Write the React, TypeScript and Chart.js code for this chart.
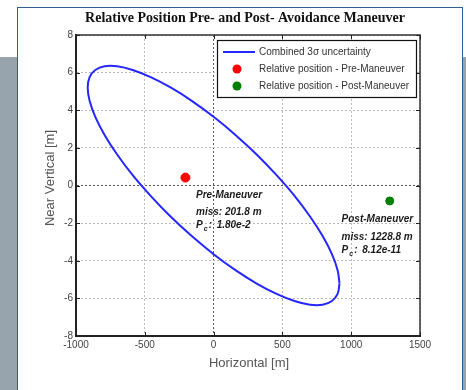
import React, { useEffect, useRef } from "react";
import { Chart, registerables } from "chart.js";

Chart.register(...registerables);

// ---- data ----
const ellipseX = [
  915.0, 901.1, 859.8, 792.4, 700.9, 588.2, 457.5, 312.9, 158.8, 0,
  -158.8, -312.9, -457.5, -588.2, -700.9, -792.4, -859.8, -901.1, -915.0,
  -901.1, -859.8, -792.4, -700.9, -588.2, -457.5, -312.9, -158.8, 0,
  158.8, 312.9, 457.5, 588.2, 700.9, 792.4, 859.8, 901.1, 915.0,
];
const ellipseY = [
  -5.21, -5.76, -6.14, -6.34, -6.34, -6.14, -5.76, -5.21, -4.5, -3.65,
  -2.69, -1.65, -0.55, 0.55, 1.65, 2.69, 3.65, 4.5, 5.21,
  5.76, 6.14, 6.34, 6.34, 6.14, 5.76, 5.21, 4.5, 3.65,
  2.69, 1.65, 0.55, -0.55, -1.65, -2.69, -3.65, -4.5, -5.21,
];
const preX = [-205];
const preY = [0.42];
const postX = [1280];
const postY = [-0.82];

const xTicks = [-1000, -500, 0, 500, 1000, 1500];
const yTicks = [-8, -6, -4, -2, 0, 2, 4, 6, 8];

const titleText = "Relative Position Pre- and Post- Avoidance Maneuver";
const xTitle = "Horizontal [m]";
const yTitle = "Near Vertical [m]";
const seriesLabels = [
  "Combined 3\u03c3 uncertainty",
  "Relative position - Pre-Maneuver",
  "Relative position - Post-Maneuver",
];
const preNote = ["Pre-Maneuver", "miss: 201.8 m", "1.80e-2"];
const postNote = ["Post-Maneuver", "miss: 1228.8 m", "8.12e-11"];
// note anchors in data units
const preNoteAt = [-128, -0.5];
const postNoteAt = [930, -1.8];

const SANS = '"Liberation Sans", Arial, sans-serif';
const BLUE = "#2626ff";
const RED = "#ff0000";
const GREEN = "#008000";

const decorPlugin = {
  id: "decor",
  afterDraw(chart: any) {
    const { ctx, chartArea: ca } = chart;
    const xs = chart.scales.x;
    const ys = chart.scales.y;
    ctx.save();

    // top / right box edges
    ctx.strokeStyle = "#333";
    ctx.lineWidth = 1.5;
    ctx.beginPath();
    ctx.moveTo(ca.left, ca.top);
    ctx.lineTo(ca.right, ca.top);
    ctx.lineTo(ca.right, ca.bottom);
    ctx.stroke();

    // inward tick marks
    ctx.lineWidth = 1;
    ctx.strokeStyle = "#222";
    ctx.beginPath();
    xTicks.forEach((v) => {
      const px = Math.round(xs.getPixelForValue(v)) + 0.5;
      ctx.moveTo(px, ca.bottom);
      ctx.lineTo(px, ca.bottom - 4);
      ctx.moveTo(px, ca.top);
      ctx.lineTo(px, ca.top + 4);
    });
    yTicks.forEach((v) => {
      const py = Math.round(ys.getPixelForValue(v)) + 0.5;
      ctx.moveTo(ca.left, py);
      ctx.lineTo(ca.left + 4, py);
      ctx.moveTo(ca.right, py);
      ctx.lineTo(ca.right - 4, py);
    });
    ctx.stroke();

    // title
    ctx.fillStyle = "#111";
    ctx.font = 'bold 14px "Liberation Serif", "DejaVu Serif", serif';
    ctx.textAlign = "center";
    ctx.textBaseline = "middle";
    ctx.fillText(titleText, 245, 18);

    // axis titles
    ctx.fillStyle = "#555";
    ctx.font = "13px " + SANS;
    ctx.fillText(xTitle, (ca.left + ca.right) / 2 + 1, 363);
    ctx.save();
    ctx.translate(50, 178);
    ctx.rotate(-Math.PI / 2);
    ctx.fillText(yTitle, 0, 0);
    ctx.restore();

    // legend
    const lx = 217, ly = 40, lw = 199, lh = 57;
    ctx.fillStyle = "#fff";
    ctx.fillRect(lx, ly, lw, lh);
    ctx.strokeStyle = "#111";
    ctx.lineWidth = 1.2;
    ctx.strokeRect(lx + 0.5, ly + 0.5, lw, lh);
    const rows = [52, 69, 86];
    ctx.strokeStyle = BLUE;
    ctx.lineWidth = 2;
    ctx.beginPath();
    ctx.moveTo(223, rows[0]);
    ctx.lineTo(255, rows[0]);
    ctx.stroke();
    ctx.fillStyle = RED;
    ctx.beginPath();
    ctx.arc(237, rows[1], 4.5, 0, Math.PI * 2);
    ctx.fill();
    ctx.fillStyle = GREEN;
    ctx.beginPath();
    ctx.arc(237, rows[2], 4.5, 0, Math.PI * 2);
    ctx.fill();
    ctx.fillStyle = "#333";
    ctx.font = "10px " + SANS;
    ctx.textAlign = "left";
    seriesLabels.forEach((t, i) => ctx.fillText(t, 259, rows[i]));

    // notes
    const drawNote = (lines: string[], at: number[], gaps: number[]) => {
      const x0 = xs.getPixelForValue(at[0]);
      const y0 = ys.getPixelForValue(at[1]);
      ctx.fillStyle = "#1a1a1a";
      ctx.textAlign = "left";
      ctx.textBaseline = "middle";
      ctx.font = "italic bold 10px " + SANS;
      ctx.fillText(lines[0], x0, y0);
      ctx.fillText(lines[1], x0, y0 + gaps[0]);
      const y2 = y0 + gaps[0] + gaps[1];
      ctx.fillText("P", x0, y2);
      const pw = ctx.measureText("P").width;
      ctx.font = "italic bold 7px " + SANS;
      ctx.fillText("c", x0 + pw + 1, y2 + 4);
      ctx.font = "italic bold 10px " + SANS;
      ctx.fillText(":", x0 + pw + 6, y2);
      ctx.fillText(lines[2], x0 + pw + 14, y2);
    };
    drawNote(preNote, preNoteAt, [17.5, 12.5]);
    drawNote(postNote, postNoteAt, [18, 13]);

    ctx.restore();
  },
};

export default function App() {
  const ref = useRef<HTMLCanvasElement | null>(null);

  useEffect(() => {
    if (!ref.current) return;
    const gridColor = (c: any) =>
      c.tick && c.tick.value === 0 ? "#555" : "#b8b8b8";
    const chart = new Chart(ref.current, {
      type: "scatter",
      data: {
        datasets: [
          {
            label: seriesLabels[0],
            data: ellipseX.map((x, i) => ({ x, y: ellipseY[i] })),
            showLine: true,
            borderColor: BLUE,
            borderWidth: 2,
            pointRadius: 0,
            tension: 0.4,
            fill: false,
          },
          {
            label: seriesLabels[1],
            data: preX.map((x, i) => ({ x, y: preY[i] })),
            backgroundColor: RED,
            borderColor: RED,
            pointRadius: 4.5,
          },
          {
            label: seriesLabels[2],
            data: postX.map((x, i) => ({ x, y: postY[i] })),
            backgroundColor: GREEN,
            borderColor: GREEN,
            pointRadius: 4,
          },
        ],
      },
      options: {
        responsive: false,
        animation: false,
        layout: { padding: { left: 0, top: 35, right: 46, bottom: 0 } },
        plugins: {
          legend: { display: false },
          title: { display: false },
          tooltip: { enabled: false },
        },
        scales: {
          x: {
            type: "linear",
            min: -1000,
            max: 1500,
            afterBuildTicks: (s: any) => {
              s.ticks = xTicks.map((v) => ({ value: v }));
            },
            afterFit: (s: any) => {
              s.height = 54;
            },
            ticks: {
              color: "#444",
              font: { family: SANS, size: 10 },
              padding: 3,
              maxRotation: 0,
              callback: (v: any) => String(v),
            },
            grid: { color: gridColor, lineWidth: 1, drawTicks: false },
            border: { display: true, color: "#222", width: 2, dash: [2, 2] },
          },
          y: {
            type: "linear",
            min: -8,
            max: 8,
            afterBuildTicks: (s: any) => {
              s.ticks = yTicks.map((v) => ({ value: v }));
            },
            afterFit: (s: any) => {
              s.width = 76;
            },
            ticks: {
              color: "#444",
              font: { family: SANS, size: 10 },
              padding: 3,
              callback: (v: any) => String(v),
            },
            grid: { color: gridColor, lineWidth: 1, drawTicks: false },
            border: { display: true, color: "#222", width: 2, dash: [2, 2] },
          },
        },
      },
      plugins: [decorPlugin],
    } as any);
    return () => chart.destroy();
  }, []);

  return (
    <div
      style={{
        position: "fixed",
        left: 0,
        top: 0,
        width: 466,
        height: 390,
        background: "#fff",
        overflow: "hidden",
      }}
    >
      <div
        style={{
          position: "absolute",
          left: 0,
          top: 57,
          width: 466,
          height: 333,
          background: "#97a3ad",
        }}
      />
      <div
        style={{
          position: "absolute",
          left: 17,
          top: 7,
          width: 446,
          height: 400,
          background: "#fff",
          border: "1px solid #2f5f8f",
          boxSizing: "border-box",
        }}
      />
      <canvas
        ref={ref}
        width={466}
        height={390}
        style={{ position: "absolute", left: 0, top: 0, width: 466, height: 390 }}
      />
    </div>
  );
}
